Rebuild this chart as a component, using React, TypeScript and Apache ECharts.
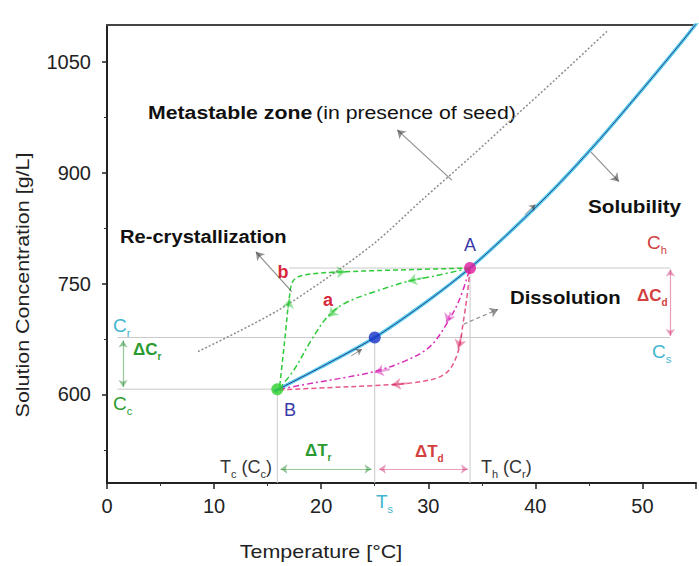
import React, { useEffect, useRef } from 'react';
import * as echarts from 'echarts';

// ---- data (temperature °C, concentration g/L) ----
const solubilityT = [15.6, 20, 25, 30, 33.9, 38, 42, 46, 50, 54, 56];
const solubilityC = [604, 637, 677, 727, 771, 825, 882, 945, 1013, 1083, 1120];
const metastableT = [8.5, 12, 16, 20, 25, 29.4, 34, 38, 42, 46.8];
const metastableC = [658, 683, 714, 752, 805, 863, 922, 975, 1028, 1093];
const recrystAT = [33.9, 30.5, 28.1, 25, 22.3, 20.7, 19.1, 17.5, 16.1];
const recrystAC = [771, 760, 753, 739, 724, 707, 674, 634, 608];
const recrystBT = [33.9, 28.7, 22.3, 18.6, 17.4, 17.0, 16.7, 16.4, 16.1];
const recrystBC = [771, 769, 766, 762, 754, 728, 688, 647, 608];
const dissol1T = [16.1, 19.5, 22.3, 25.0, 27.8, 30.1, 31.7, 32.9, 33.9];
const dissol1C = [607, 616, 623, 631, 645, 664, 695, 728, 771];
const dissol2T = [16.1, 20.5, 25, 28.7, 31.5, 32.7, 33.3, 33.7, 33.9];
const dissol2C = [606, 609, 612, 616, 627, 654, 701, 742, 771];

const pointA = [33.9, 771];
const pointS = [25, 677];
const pointB = [15.9, 607];
const Th = 33.9, Ts = 25, Tc = 15.9;
const Ch = 771, Cs = 677, Cc = 607;
const deltaTLevel = 499;
const deltaCrT = 1.5;
const deltaCdT = 52.6;
const guideStartT = 1.0;
const guideChStartT = 17;

const xTicks = [0, 10, 20, 30, 40, 50];
const yMajor = [600, 750, 900, 1050];
const yMinor = [525, 675, 825, 975];

// direction arrows on curves: [from, to]
const greenArrows = [
  [[29.6, 758], [28.1, 753]],
  [[21.6, 718], [20.7, 705]],
  [[21.0, 765], [22.3, 766]],
  [[16.9, 716], [17.05, 729]],
];
const magentaArrows = [
  [[26.4, 634], [25.0, 630]],
  [[32.1, 711], [31.7, 697]],
];
const redArrows = [
  [[28.0, 615], [26.6, 613]],
  [[33.1, 680], [32.8, 662]],
];
const solArrows = [
  [[22.8, 652], [23.8, 661]],
  [[39.0, 843], [40.0, 857]],
];
const blackArrows = [
  [[32.2, 890], [27.1, 958]],
  [[45.2, 928], [47.8, 888]],
  [[17.25, 739], [13.9, 793]],
];
const dissolutionArrow = [[33.3, 695], [36.5, 715]];

const zip = (xs: number[], ys: number[]) => xs.map((x, i) => [x, ys[i]]);

const FONT = 'Liberation Sans, Arial, Helvetica, sans-serif';
const SX = 1.09;

function subText(parts: [string, string][], color: string, size: number, bold = false) {
  let text = '';
  parts.forEach(([m, s]) => {
    if (m) text += `{m|${m}}`;
    if (s) text += `{s|${s}}`;
  });
  return {
    text,
    fill: color,
    fontFamily: FONT,
    rich: {
      m: { fontSize: size, lineHeight: size + 1, verticalAlign: 'top', fill: color, fontFamily: FONT, fontWeight: bold ? 'bold' : 'normal' },
      s: { fontSize: Math.round(size * 0.6), lineHeight: size + 14, verticalAlign: 'middle', fill: color, fontFamily: FONT, fontWeight: bold ? 'bold' : 'normal' },
    },
  };
}

export default function App() {
  const ref = useRef<HTMLDivElement>(null);
  useEffect(() => {
    if (!ref.current) return;
    const chart = echarts.init(ref.current, null, { renderer: 'svg' });

    const lineSeries = (data: number[][], color: string, width: number, type: any, smooth: number | boolean = false, z = 3) => ({
      type: 'line',
      data,
      smooth,
      showSymbol: false,
      symbol: 'none',
      lineStyle: { color, width, type },
      z,
      silent: true,
    });

    const arrowSeries = (pairs: number[][][], color: string, size: number, width = 1) => ({
      type: 'lines',
      coordinateSystem: 'cartesian2d',
      symbol: ['none', 'arrow'],
      symbolSize: size,
      lineStyle: { color, width, curveness: 0 },
      data: pairs.map((p) => ({ coords: p })),
      z: 6,
      silent: true,
    });

    const grey = '#c9c9c9';
    const green = '#2fca3a';
    const magenta = '#d92fb8';
    const red = '#e5588e';

    const option: any = {
      animation: false,
      backgroundColor: '#ffffff',
      grid: { left: 107, top: 25, right: -7.5, bottom: 83, containLabel: false },
      xAxis: [
        {
          type: 'value', min: 0, max: 55, interval: 10, position: 'bottom',
          axisLine: { show: true, lineStyle: { color: '#222', width: 2 } },
          axisTick: { show: true, length: 6, lineStyle: { color: '#222', width: 1.5 } },
          minorTick: { show: true, splitNumber: 2, length: 3, lineStyle: { color: '#333', width: 1 } },
          axisLabel: { fontSize: 20, color: '#222', margin: 13, fontFamily: FONT, formatter: (v: number) => (xTicks.includes(v) ? String(v) : '') },
          splitLine: { show: false },
        },
        {
          type: 'value', min: 0, max: 55, position: 'top',
          axisLine: { show: true, lineStyle: { color: '#444', width: 2 } },
          axisTick: { show: false }, axisLabel: { show: false }, splitLine: { show: false },
        },
      ],
      yAxis: [
        {
          type: 'value', min: 480, max: 1100, position: 'left',
          axisLine: { show: true, lineStyle: { color: '#222', width: 2 } },
          axisTick: { show: true, length: 5, customValues: yMajor, lineStyle: { color: '#222', width: 1.5 } },
          axisLabel: { customValues: yMajor, fontSize: 20, color: '#222', margin: 16, fontFamily: FONT, formatter: (v: number) => String(v) },
          splitLine: { show: false },
        },
        {
          type: 'value', min: 480, max: 1100, position: 'left',
          axisLine: { show: false },
          axisTick: { show: true, length: 3, customValues: yMinor, lineStyle: { color: '#333', width: 1 } },
          axisLabel: { show: false }, splitLine: { show: false },
        },
      ],
      series: [
        // guide lines
        lineSeries([[guideChStartT, Ch], [deltaCdT, Ch]], grey, 1, 'solid', false, 2),
        lineSeries([[guideStartT, Cs], [deltaCdT, Cs]], grey, 1, 'solid', false, 2),
        lineSeries([[guideStartT, Cc], [Tc, Cc]], grey, 1, 'solid', false, 2),
        lineSeries([[Tc, Cc], [Tc, 480]], grey, 1, 'solid', false, 2),
        lineSeries([[Ts, Cs], [Ts, 480]], grey, 1, 'solid', false, 2),
        lineSeries([[Th, Ch], [Th, 480]], grey, 1, 'solid', false, 2),
        // metastable
        lineSeries(zip(metastableT, metastableC), '#8c8c8c', 1.5, [2, 2], 0.3, 3),
        // solubility
        lineSeries(zip(solubilityT, solubilityC), '#5fd0ec', 3.5, 'solid', 0.3, 3),
        lineSeries(zip(solubilityT, solubilityC), '#25408f', 1, 'solid', 0.3, 4),
        // recrystallization paths
        lineSeries(zip(recrystAT, recrystAC), green, 1.5, [6, 3, 2, 3], 0.35, 4),
        lineSeries(zip(recrystBT, recrystBC), green, 1.5, [5, 3], 0.35, 4),
        // dissolution paths
        lineSeries(zip(dissol1T, dissol1C), magenta, 1.5, [6, 3, 2, 3], 0.35, 4),
        lineSeries(zip(dissol2T, dissol2C), red, 1.5, [5, 3], 0.35, 4),
        // direction arrows
        arrowSeries(greenArrows, green, 9, 2),
        arrowSeries(magentaArrows, magenta, 9, 2),
        arrowSeries(redArrows, '#d9306a', 9, 2),
        arrowSeries(solArrows, '#222', 6, 1),
        arrowSeries(blackArrows, '#222', 8, 1.2),
        {
          type: 'lines', coordinateSystem: 'cartesian2d', symbol: ['none', 'arrow'], symbolSize: 8,
          lineStyle: { color: '#222', width: 1.2, type: [4, 3], curveness: 0 },
          data: [{ coords: dissolutionArrow }], z: 6, silent: true,
        },
        // delta arrows
        {
          type: 'lines', coordinateSystem: 'cartesian2d', symbol: ['arrow', 'arrow'], symbolSize: 7,
          lineStyle: { color: '#2b8f33', width: 1.2, curveness: 0 },
          data: [{ coords: [[Tc + 0.3, deltaTLevel], [Ts - 0.3, deltaTLevel]] }, { coords: [[deltaCrT, Cs - 4], [deltaCrT, Cc + 3]] }],
          z: 6, silent: true,
        },
        {
          type: 'lines', coordinateSystem: 'cartesian2d', symbol: ['arrow', 'arrow'], symbolSize: 7,
          lineStyle: { color: '#d23c7c', width: 1.2, curveness: 0 },
          data: [{ coords: [[Ts + 0.4, deltaTLevel], [Th - 0.2, deltaTLevel]] }, { coords: [[deltaCdT, Ch - 2], [deltaCdT, Cs + 2]] }],
          z: 6, silent: true,
        },
        // key points
        {
          type: 'scatter', symbolSize: 12, z: 7, silent: true,
          data: [
            { value: pointA, itemStyle: { color: '#e0199c' } },
            { value: pointS, itemStyle: { color: '#1630c8' } },
            { value: pointB, itemStyle: { color: '#2ccf2c' } },
          ],
        },
      ],
      graphic: [
        { type: 'text', x: 148, y: 112, scaleX: 1.12, style: { text: '{b|Metastable zone} {n|(in presence of seed)}', verticalAlign: 'middle', rich: { b: { fontSize: 19, fontWeight: 'bold', fill: '#111', fontFamily: FONT }, n: { fontSize: 19, fill: '#111', fontFamily: FONT } } } },
        { type: 'text', x: 588, y: 206, scaleX: SX, style: { text: 'Solubility', fontSize: 19, fontWeight: 'bold', fill: '#111', fontFamily: FONT, verticalAlign: 'middle' } },
        { type: 'text', x: 120, y: 236, scaleX: 1.06, style: { text: 'Re-crystallization', fontSize: 19, fontWeight: 'bold', fill: '#111', fontFamily: FONT, verticalAlign: 'middle' } },
        { type: 'text', x: 510, y: 297, scaleX: 1.07, style: { text: 'Dissolution', fontSize: 19, fontWeight: 'bold', fill: '#111', fontFamily: FONT, verticalAlign: 'middle' } },
        { type: 'text', x: 283, y: 272, style: { text: 'b', fontSize: 18, fontWeight: 'bold', fill: '#d8283c', fontFamily: FONT, align: 'center', verticalAlign: 'middle' } },
        { type: 'text', x: 328, y: 300, style: { text: 'a', fontSize: 18, fontWeight: 'bold', fill: '#d8283c', fontFamily: FONT, align: 'center', verticalAlign: 'middle' } },
        { type: 'text', x: 470, y: 245, style: { text: 'A', fontSize: 18, fill: '#3a3aa8', fontFamily: FONT, align: 'center', verticalAlign: 'middle' } },
        { type: 'text', x: 290, y: 410, style: { text: 'B', fontSize: 18, fill: '#3a3aa8', fontFamily: FONT, align: 'center', verticalAlign: 'middle' } },
        { type: 'text', x: 647, y: 233, style: { ...subText([['C', 'h']], '#d24040', 19), verticalAlign: 'top' } },
        { type: 'text', x: 637, y: 287, style: { ...subText([['ΔC', 'd']], '#d24040', 17, true), verticalAlign: 'top' } },
        { type: 'text', x: 652, y: 342, style: { ...subText([['C', 's']], '#3fb6cf', 19), verticalAlign: 'top' } },
        { type: 'text', x: 113, y: 316, style: { ...subText([['C', 'r']], '#3fb6cf', 19), verticalAlign: 'top' } },
        { type: 'text', x: 133, y: 341, style: { ...subText([['ΔC', 'r']], '#2b9a30', 17, true), verticalAlign: 'top' } },
        { type: 'text', x: 113, y: 394, style: { ...subText([['C', 'c']], '#2b9a30', 19), verticalAlign: 'top' } },
        { type: 'text', x: 272, y: 458, style: { ...subText([['T', 'c'], [' (C', 'c'], [')', '']], '#333', 18), verticalAlign: 'top', align: 'right' } },
        { type: 'text', x: 305, y: 442, style: { ...subText([['ΔT', 'r']], '#2b9a30', 17, true), verticalAlign: 'top' } },
        { type: 'text', x: 415, y: 443, style: { ...subText([['ΔT', 'd']], '#d24040', 17, true), verticalAlign: 'top' } },
        { type: 'text', x: 481, y: 458, style: { ...subText([['T', 'h'], [' (C', 'r'], [')', '']], '#333', 18), verticalAlign: 'top' } },
        { type: 'text', x: 376, y: 492, style: { ...subText([['T', 's']], '#3fb6cf', 19), verticalAlign: 'top' } },
        { type: 'text', x: 22, y: 285, rotation: Math.PI / 2, scaleX: 1.13, style: { text: 'Solution Concentration [g/L]', fontSize: 19, fill: '#222', fontFamily: FONT, align: 'center', verticalAlign: 'middle' } },
        { type: 'text', x: 321, y: 551, scaleX: 1.13, style: { text: 'Temperature [\u00b0C]', fontSize: 19, fill: '#222', fontFamily: FONT, align: 'center', verticalAlign: 'middle' } },
      ],
    };
    chart.setOption(option);
    return () => chart.dispose();
  }, []);
  return <div ref={ref} style={{ position: 'fixed', left: 0, top: 0, width: 699, height: 566 }} />;
}
